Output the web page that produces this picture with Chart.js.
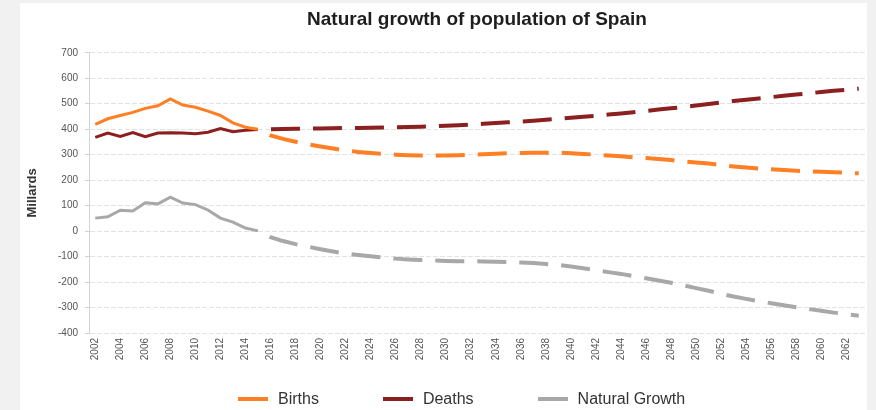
<!DOCTYPE html>
<html>
<head>
<meta charset="utf-8">
<script src="https://cdn.jsdelivr.net/npm/chart.js@4.4.1/dist/chart.umd.min.js"></script>
<style>
  html, body { margin: 0; padding: 0; background: #f1f1f1; }
  #wrap { position: relative; width: 876px; height: 410px; overflow: hidden; }
  #panel { position: absolute; left: 20px; top: 3px; width: 847px; height: 407px; background: #fff; }
  #c { position: absolute; left: 0; top: 0; }
  #legend { position: absolute; left: 238px; top: 390px; display: flex; gap: 64px;
            font: 16px "Liberation Sans", Arial, sans-serif; color: #333; white-space: nowrap; }
  #legend .item { display: flex; align-items: center; height: 18px; }
  #legend .swatch { width: 30px; height: 4px; margin-right: 10px; }
</style>
</head>
<body>
<div id="wrap">
  <div id="panel"></div>
  <canvas id="c" width="876" height="410"></canvas>
  <div id="legend"></div>
</div>
<script>
// Years 2002-2015 are recorded, later years are projections (thousands of people)
const years = [
  '2002','2003','2004','2005','2006','2007','2008','2009','2010','2011',
  '2012','2013','2014','2015','2016','2017','2018','2019','2020','2021',
  '2022','2023','2024','2025','2026','2027','2028','2029','2030','2031',
  '2032','2033','2034','2035','2036','2037','2038','2039','2040','2041',
  '2042','2043','2044','2045','2046','2047','2048','2049','2050','2051',
  '2052','2053','2054','2055','2056','2057','2058','2059','2060','2061',
  '2062','2063'
];

const births = [
  419, 441, 454, 466, 482, 492, 519, 495, 486, 471,
  454, 425, 408, 400, 376, 362, 351, 341, 332, 324,
  317, 311, 307, 303, 300, 298, 297, 297, 297, 298,
  300, 302, 304, 306, 307, 308, 308, 308, 306, 303,
  300, 297, 294, 290, 287, 283, 279, 274, 269, 265,
  259, 254, 250, 246, 243, 240, 237, 235, 233, 231,
  229, 227
];

const deaths = [
  368, 385, 372, 387, 371, 385, 386, 385, 382, 388,
  403, 390, 396, 399, 400, 401, 402, 402, 403, 404,
  405, 405, 406, 407, 408, 409, 410, 412, 414, 416,
  418, 421, 424, 427, 430, 433, 437, 441, 445, 449,
  453, 458, 462, 467, 472, 477, 482, 487, 493, 499,
  505, 511, 516, 521, 526, 531, 536, 541, 546, 551,
  555, 559
];

const naturalGrowth = [
   51,  56,  82,  79, 111, 107, 133, 110, 104,  83,
   51,  35,  12,   1, -24, -39, -51, -61, -71, -80,
  -88, -94, -99,-104,-108,-111,-113,-115,-117,-118,
 -118,-119,-120,-121,-123,-125,-129,-133,-139,-146,
 -153,-161,-168,-177,-185,-194,-203,-213,-224,-234,
 -246,-257,-266,-275,-283,-291,-299,-306,-313,-320,
 -326,-332
];

const yTicks = { min: -400, max: 700, step: 100 };

const LAST_RECORDED = 13;          // index of 2015
const FONT = '"Liberation Sans", Arial, sans-serif';

function lineSeries(label, data, color) {
  const projected = c => c.p0DataIndex >= LAST_RECORDED;
  return {
    label, data,
    borderColor: color,
    backgroundColor: color,
    borderWidth: 3,
    pointRadius: 0,
    pointHoverRadius: 0,
    tension: 0,
    borderCapStyle: 'butt',
    segment: {
      borderDash: c => projected(c) ? [29, 13] : [],
      borderDashOffset: c => projected(c) ? 29 : 0,
      borderWidth: c => projected(c) ? 4 : 3
    }
  };
}

const datasets = [
  lineSeries('Births', births, '#ff7f24'),
  lineSeries('Deaths', deaths, '#8c1f1f'),
  lineSeries('Natural Growth', naturalGrowth, '#a8a8a8')
];

new Chart(document.getElementById('c'), {
  type: 'line',
  data: { labels: years, datasets },
  options: {
    responsive: false,
    animation: false,
    layout: { padding: { left: 20, right: 11, top: 3, bottom: 37 } },
    plugins: {
      legend: { display: false },
      tooltip: { enabled: false },
      title: {
        display: true,
        fullSize: false,
        text: 'Natural growth of population of Spain',
        color: '#1e1e1e',
        font: { family: FONT, size: 19, weight: 'bold' },
        padding: { top: 5, bottom: 22 }
      }
    },
    scales: {
      x: {
        offset: true,
        grid: { display: false, drawTicks: false },
        border: { display: false },
        ticks: {
          autoSkip: false,
          minRotation: 90,
          maxRotation: 90,
          padding: 5,
          color: '#555',
          font: { family: FONT, size: 10 },
          callback: function (value, index) {
            return index % 2 === 0 ? this.getLabelForValue(value) : '';
          }
        },
        afterFit: s => { s.height = 40; }
      },
      y: {
        min: yTicks.min,
        max: yTicks.max,
        ticks: {
          stepSize: yTicks.step,
          padding: 7,
          color: '#555',
          font: { family: FONT, size: 10 }
        },
        grid: { color: '#e3e3e3', tickLength: 4, tickColor: '#d0d0d0' },
        border: { display: true, color: '#d3d3d3', dash: [5, 2] },
        title: {
          display: true,
          text: 'Millards',
          color: '#333',
          font: { family: FONT, size: 13, weight: 'bold' },
          padding: { top: 5, bottom: 0 }
        },
        afterFit: s => { s.width = 69; }
      }
    }
  }
});

// Legend built from the dataset labels and colours
const legend = document.getElementById('legend');
datasets.forEach(d => {
  const item = document.createElement('div');
  item.className = 'item';
  const sw = document.createElement('span');
  sw.className = 'swatch';
  sw.style.background = d.borderColor;
  const tx = document.createElement('span');
  tx.textContent = d.label;
  item.appendChild(sw);
  item.appendChild(tx);
  legend.appendChild(item);
});
</script>
</body>
</html>
